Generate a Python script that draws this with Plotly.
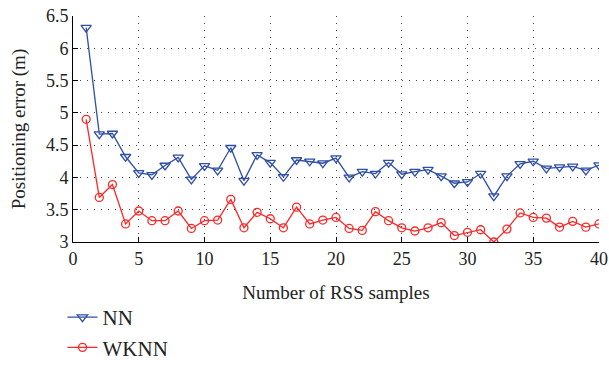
import plotly.graph_objects as go

samples = list(range(1, 41))
nn = [6.32, 4.67, 4.68, 4.32, 4.07, 4.04, 4.185, 4.31, 3.97, 4.18,
      4.11, 4.46, 3.95, 4.35, 4.23, 4.01, 4.27, 4.25, 4.22, 4.30,
      4.00, 4.09, 4.06, 4.23, 4.05, 4.09, 4.12, 4.02, 3.91, 3.93,
      4.06, 3.71, 4.02, 4.21, 4.25, 4.14, 4.16, 4.17, 4.11, 4.19]
wknn = [4.90, 3.69, 3.89, 3.28, 3.48, 3.33, 3.33, 3.48, 3.21, 3.33,
        3.34, 3.66, 3.22, 3.46, 3.36, 3.22, 3.54, 3.28, 3.34, 3.38,
        3.21, 3.18, 3.47, 3.33, 3.22, 3.17, 3.22, 3.30, 3.10, 3.15,
        3.19, 3.00, 3.20, 3.45, 3.38, 3.37, 3.23, 3.32, 3.23, 3.28]
x_ticks = [0, 5, 10, 15, 20, 25, 30, 35, 40]
y_ticks = [3, 3.5, 4, 4.5, 5, 5.5, 6, 6.5]
y_tick_text = ["3", "3.5", "4", "4.5", "5", "5.5", "6", "6.5"]

FONT = "Liberation Serif, Times New Roman, serif"
BLUE = "#2f4ea6"
RED = "#ff2626"

fig = go.Figure()
fig.add_trace(go.Scatter(
    x=samples, y=nn, name="NN", mode="lines+markers",
    line=dict(color=BLUE, width=1.3),
    marker=dict(symbol="triangle-down-open", size=9, color=BLUE, line=dict(width=1.3)),
))
fig.add_trace(go.Scatter(
    x=samples, y=wknn, name="WKNN", mode="lines+markers",
    line=dict(color=RED, width=1.3),
    marker=dict(symbol="circle-open", size=8, color=RED, line=dict(width=1.3)),
))

fig.update_layout(
    width=609, height=376,
    margin=dict(l=73, r=10, t=16, b=134, autoexpand=False),
    paper_bgcolor="white", plot_bgcolor="white",
    font=dict(family=FONT, size=18, color="#222"),
    showlegend=True,
    legend=dict(x=-0.02, y=-0.243, xanchor="left", yanchor="top",
                font=dict(family=FONT, size=21, color="#222"),
                bgcolor="rgba(0,0,0,0)", tracegroupgap=0),
)
fig.update_xaxes(
    range=[0, 40], tickvals=x_ticks, ticks="inside", ticklen=5, tickcolor="black",
    showline=True, linecolor="black", linewidth=1, mirror=False,
    showgrid=True, gridcolor="#444", griddash="1px,6px", gridwidth=1,
    zeroline=False, automargin=False,
    title=dict(text="Number of RSS samples", font=dict(family=FONT, size=19), standoff=18),
    tickfont=dict(family=FONT, size=18),
)
fig.update_yaxes(
    range=[3, 6.5], tickvals=y_ticks, ticktext=y_tick_text, ticks="inside", ticklen=5,
    tickcolor="black",
    showline=True, linecolor="black", linewidth=1, mirror=False,
    showgrid=True, gridcolor="#444", griddash="1px,6px", gridwidth=1,
    zeroline=False, automargin=False,
    title=dict(text="Positioning error (m)", font=dict(family=FONT, size=19), standoff=15),
    tickfont=dict(family=FONT, size=18),
)
fig.write_html(
    "out.html",
    config={"displayModeBar": False},
    post_script="document.body.style.margin='0';document.body.style.padding='0';",
)
